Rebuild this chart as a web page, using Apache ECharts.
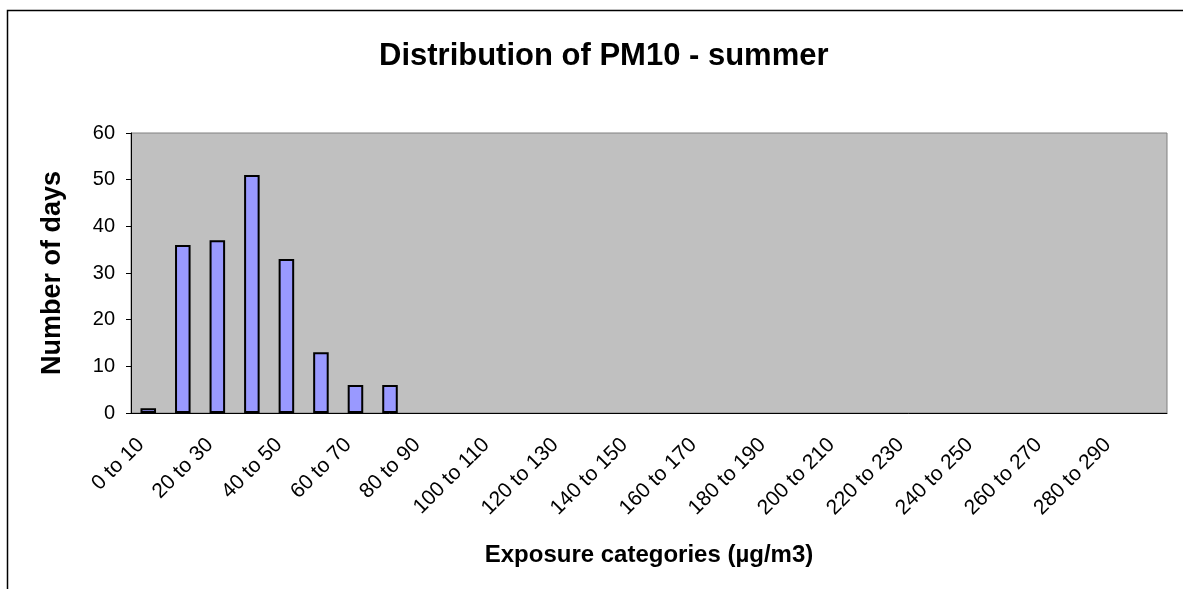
<!DOCTYPE html>
<html>
<head>
<meta charset="utf-8">
<script src="https://cdn.jsdelivr.net/npm/echarts@6/dist/echarts.min.js"></script>
<style>
  html, body { margin: 0; padding: 0; background: #fff; }
  #chart { width: 1183px; height: 589px; }
</style>
</head>
<body>
<div id="chart"></div>
<script>
// exposure classes, 10 µg/m3 wide
let categories = [];
for (let i = 0; i < 30; i++) {
  categories.push((i * 10) + ' to ' + (i * 10 + 10));
}
let days = [1, 36, 37, 51, 33, 13, 6, 6, 0, 0, 0, 0, 0, 0, 0,
            0, 0, 0, 0, 0, 0, 0, 0, 0, 0, 0, 0, 0, 0, 0];
let yTicks = { min: 0, max: 60, interval: 10 };

let chart = echarts.init(document.querySelector('#chart'));
let font = 'Liberation Sans, Arial, sans-serif';

let option = {
  animation: false,
  title: {
    text: 'Distribution of PM10 - summer',
    left: 374,
    top: 36,
    textStyle: { fontFamily: font, fontSize: 31, fontWeight: 'bold', color: '#000' }
  },
  graphic: [{
    type: 'polyline',
    shape: { points: [[7.5, 589], [7.5, 10.5], [1183, 10.5]] },
    style: { stroke: '#000', lineWidth: 1.5, fill: null }
  }],
  grid: {
    left: 131, top: 133, right: 16, bottom: 176,
    show: true,
    backgroundColor: '#c0c0c0',
    borderColor: '#808080',
    borderWidth: 1
  },
  xAxis: {
    type: 'category',
    data: categories,
    boundaryGap: true,
    name: 'Exposure categories (µg/m3)',
    nameLocation: 'middle',
    nameGap: 130,
    nameTextStyle: { fontFamily: font, fontSize: 24, fontWeight: 'bold', color: '#000' },
    axisLine: { lineStyle: { color: '#000', width: 1 } },
    axisTick: { interval: 0, length: 5, lineStyle: { color: '#000' } },
    axisLabel: {
      interval: 1,
      rotate: 45,
      margin: 36,
      verticalAlign: 'bottom',
      fontFamily: font,
      fontSize: 21,
      color: '#000'
    },
    splitLine: { show: false }
  },
  yAxis: {
    type: 'value',
    min: yTicks.min,
    max: yTicks.max,
    interval: yTicks.interval,
    name: 'Number of days',
    nameLocation: 'middle',
    nameRotate: 90,
    nameGap: 65,
    nameTextStyle: { fontFamily: font, fontSize: 27, fontWeight: 'bold', color: '#000' },
    axisLine: { show: true, lineStyle: { color: '#000', width: 1 } },
    axisTick: { show: true, length: 5, lineStyle: { color: '#000' } },
    axisLabel: { margin: 16, fontFamily: font, fontSize: 20, color: '#000' },
    splitLine: { show: false }
  },
  series: [{
    name: 'Number of days',
    type: 'bar',
    // empty classes draw nothing
    data: days.map(v => v === 0 ? '-' : v),
    barWidth: '45%',
    itemStyle: { color: '#9999ff', borderColor: '#000', borderWidth: 2 }
  }]
};
chart.setOption(option);
</script>
</body>
</html>
